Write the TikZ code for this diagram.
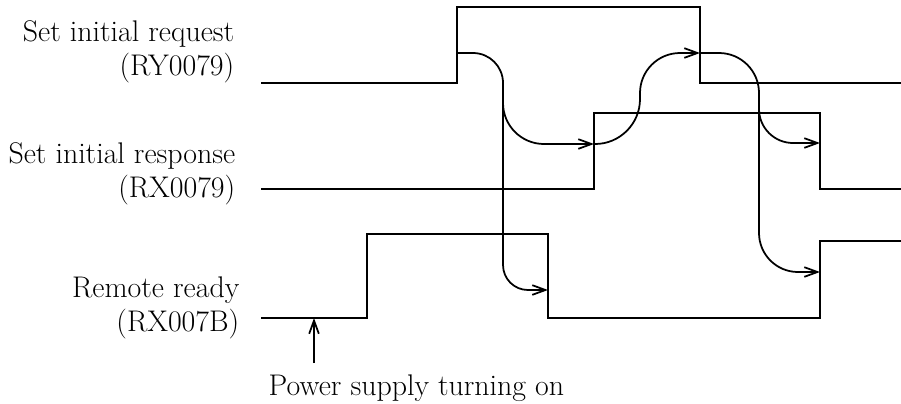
\documentclass[tikz,border=0pt]{standalone}
\usepackage{fontspec}
\usetikzlibrary{arrows.meta}
\begin{document}
\begin{tikzpicture}[x=0.02cm,y=-0.02cm,line width=1pt,
  font=\fontsize{17}{19.2}\selectfont,
  tip/.style={-{Straight Barb[length=7.5pt,width=5.5pt]}}]
\useasboundingbox (0,0) rectangle (901,403);
% signal labels
\node[align=right, anchor=base east] (req) at (241,75) {Set initial request\\(RY0079)};
\node[align=right, anchor=base east] (resp) at (242,197) {Set initial response\\(RX0079)};
\node[align=right, anchor=base east] (ready) at (246,331) {Remote ready\\(RX007B)};
\node[anchor=base west] (power) at (262,395) {Power supply turning on};
% waveforms
\draw (261,83) -- (457,83) -- (457,7) -- (700,7) -- (700,83) -- (901,83);
\draw (261,189) -- (594,189) -- (594,113) -- (820,113) -- (820,189) -- (901,189);
\draw (261,318) -- (367,318) -- (367,234) -- (548,234) -- (548,318) -- (820,318) -- (820,241) -- (901,241);
% edges
\coordinate (reqon) at (457,53);
\coordinate (reqoff) at (700,53);
\coordinate (respon) at (594,144);
\coordinate (respoff) at (820,143);
\coordinate (readyoff) at (548,290);
\coordinate (readyon) at (820,272);
\coordinate (poweron) at (314,318);
\coordinate (pwr) at (314,363);
% sequence
\draw[tip, rounded corners=0.6cm] (reqon) -- ++(46,0) [rounded corners=0.5cm] |- (readyoff);
\draw[tip, rounded corners=0.82cm] (503,95) |- (respon);
\draw[tip, rounded corners=0.9cm] (respon) -- ++(46,0) [rounded corners=0.8cm] |- (reqoff);
\draw[tip, rounded corners=0.8cm] (reqoff) -- ++(59,0) [rounded corners=0.78cm] |- (readyon);
\draw[tip, rounded corners=0.68cm] (759,100) |- (respoff);
\draw[tip] (pwr) -- (poweron);
\end{tikzpicture}
\end{document}
